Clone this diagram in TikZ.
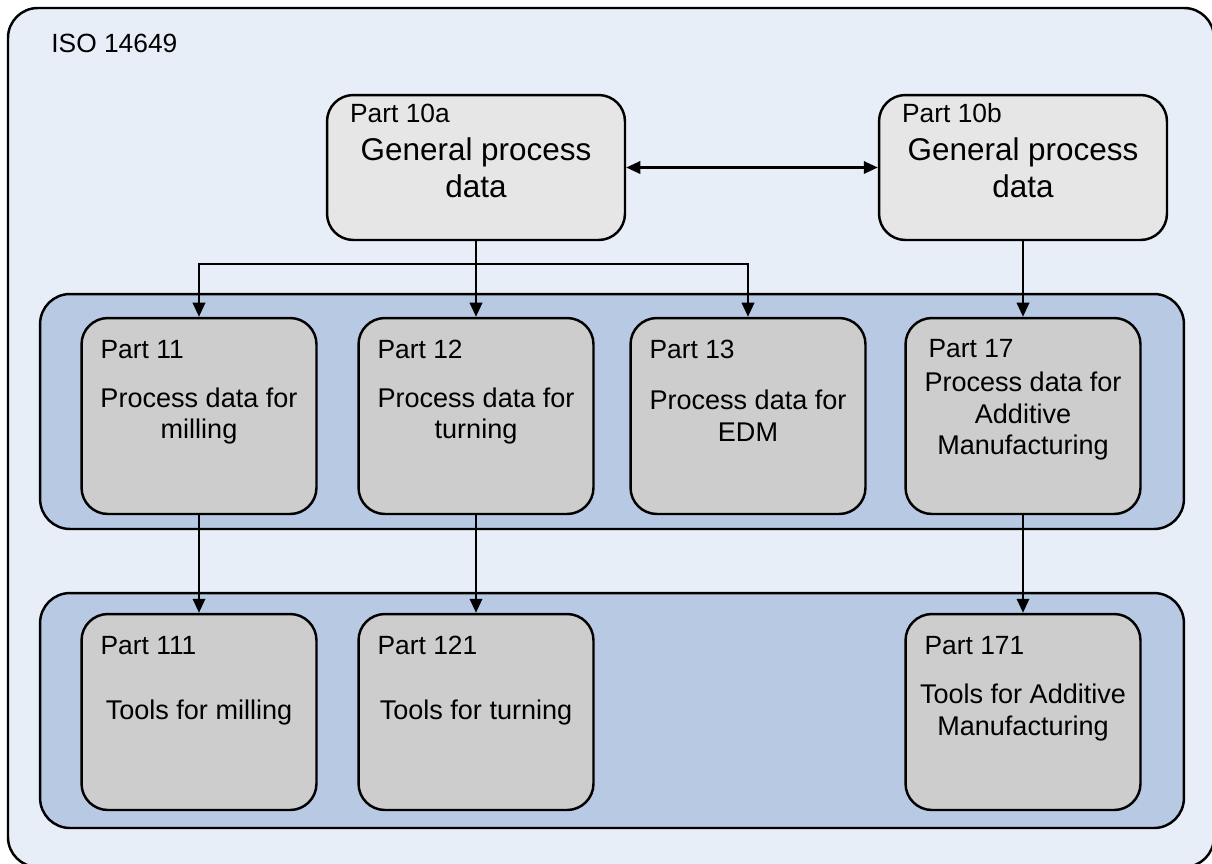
\documentclass[tikz,border=0pt]{standalone}
\usepackage{fontspec}
\setmainfont{Liberation Sans}
\usetikzlibrary{arrows.meta,calc}
\definecolor{framefill}{HTML}{E7EEF8}
\definecolor{bandfill}{HTML}{B8C9E3}
\definecolor{topfill}{HTML}{E6E6E6}
\definecolor{partfill}{HTML}{CDCDCD}
\tikzset{
  part/.style={
    draw=black,
    line width=1.4pt,
    rounded corners=15pt,
    fill=partfill,
    minimum width=4.7cm,
    minimum height=3.92cm,
    align=center,
    inner sep=0pt,
    font=\fontsize{15.4}{18.2}\selectfont
  },
  toppart/.style={part, fill=topfill, minimum height=2.9cm, font=\fontsize{17.9}{21}\selectfont},
  band/.style={draw=black, line width=1.4pt, rounded corners=17pt, fill=bandfill,
    minimum width=22.88cm, minimum height=4.7cm, inner sep=0pt},
  frame/.style={draw=black, line width=1.4pt, rounded corners=17pt, fill=framefill},
  partno/.style={anchor=base west, inner sep=0pt, font=\fontsize{15}{18}\selectfont},
  edge/.style={-{Triangle[length=8pt,width=7pt]}, line width=1.4pt},
  both/.style={{Triangle[length=8pt,width=7pt]}-{Triangle[length=8pt,width=7pt]}, line width=1.4pt}
}
\newcommand{\partno}[3]{\node[partno] (#1) at ($(#2.north west)+(20,42)$) {#3};}

\begin{document}
\begin{tikzpicture}[x=0.02cm, y=-0.02cm]
  \useasboundingbox (0,0) rectangle (1212,863);
  \draw[frame] (8,8) rectangle (1214,867);
  \node[partno] (iso) at (51,52) {ISO 14649};
  % bands
  \node[band] (midband) at (612,411.5) {};
  \node[band] (lowband) at (612,710.5) {};
  % general process data
  \node[toppart, minimum width=5.96cm] (p10a) at (476,167.5) {General process\\data};
  \node[toppart, minimum width=5.76cm] (p10b) at (1023,167.5) {General process\\data};
  \node[partno] (l10a) at ($(p10a.north west)+(24,29)$) {Part 10a};
  \node[partno] (l10b) at ($(p10b.north west)+(24,29)$) {Part 10b};
  % process data
  \node[part] (p11) at (199,416) {Process data for\\milling};
  \node[part] (p12) at (476,416) {Process data for\\turning};
  \node[part] (p13) at (748,416) {Process data for\\EDM};
  \node[part] (p17) at (1023,416) {Process data for\\Additive\\Manufacturing};
  \partno{l11}{p11}{Part 11}
  \partno{l12}{p12}{Part 12}
  \partno{l13}{p13}{Part 13}
  \node[partno] (l17) at ($(p17.north west)+(24,41)$) {Part 17};
  % tools
  \node[part] (p111) at (199,712) {Tools for milling};
  \node[part] (p121) at (476,712) {Tools for turning};
  \node[part] (p171) at (1023,712) {Tools for Additive\\Manufacturing};
  \partno{l111}{p111}{Part 111}
  \partno{l121}{p121}{Part 121}
  \partno{l171}{p171}{Part 171}
  % connectors
  \coordinate (split) at (476,264);
  \draw[both] (p10a.east) -- (p10b.west);
  \draw[edge] (p10a.south) -- (p12.north);
  \draw[edge] (split) -| (p11.north);
  \draw[edge] (split) -| (p13.north);
  \draw[edge] (p10b.south) -- (p17.north);
  \draw[edge] (p11.south) -- (p111.north);
  \draw[edge] (p12.south) -- (p121.north);
  \draw[edge] (p17.south) -- (p171.north);
\end{tikzpicture}
\end{document}
